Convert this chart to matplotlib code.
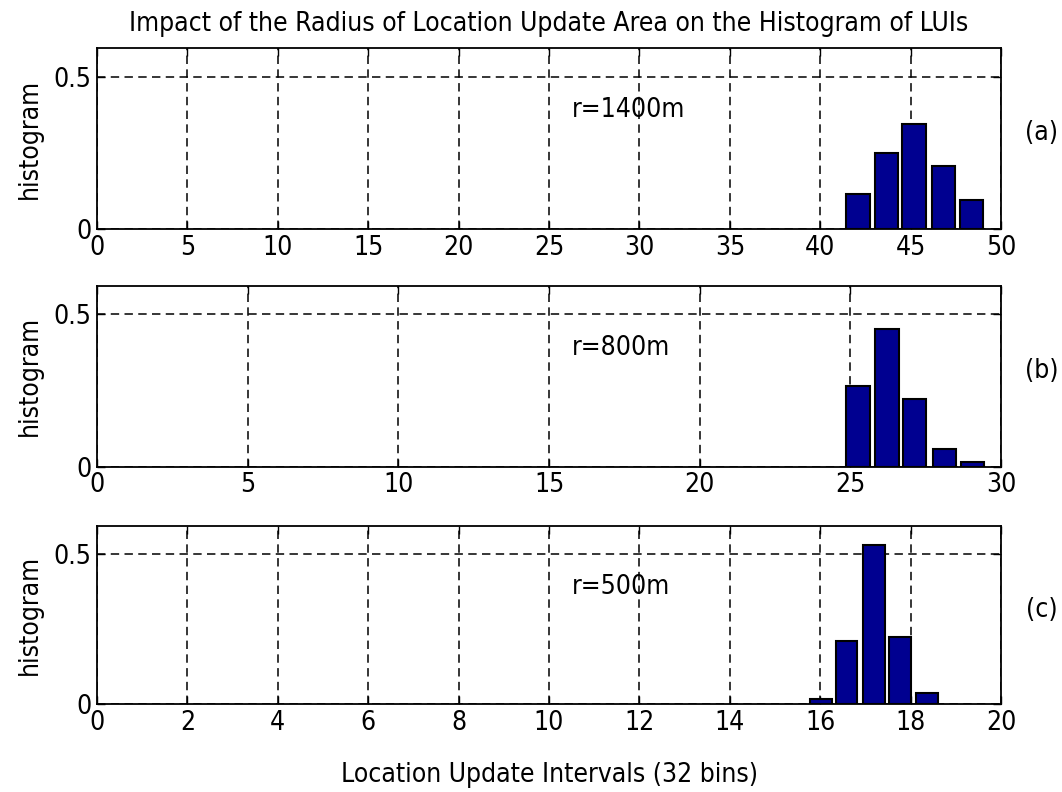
import matplotlib
matplotlib.use("Agg")
import matplotlib.pyplot as plt

plt.rcParams['font.family'] = ['Liberation Sans Narrow', 'DejaVu Sans']
plt.rcParams['font.stretch'] = 'condensed'

# Data
centers_a = [42.09, 43.66, 45.19, 46.82, 48.37]
heights_a = [0.115, 0.250, 0.343, 0.207, 0.094]
centers_b = [25.26, 26.22, 27.12, 28.13, 29.06]
heights_b = [0.265, 0.451, 0.223, 0.059, 0.015]
centers_c = [16.01, 16.58, 17.18, 17.77, 18.37]
heights_c = [0.017, 0.210, 0.530, 0.225, 0.037]

xmax = [50, 30, 20]
xticks = [list(range(0, 51, 5)), list(range(0, 31, 5)), list(range(0, 21, 2))]
radius_labels = ["r=1400m", "r=800m", "r=500m"]
panel_labels = ["(a)", "(b)", "(c)"]
title = "Impact of the Radius of Location Update Area on the Histogram of LUIs"
xlabel = "Location Update Intervals (32 bins)"
ylabel = "histogram"

centers = [centers_a, centers_b, centers_c]
heights = [heights_a, heights_b, heights_c]

fig = plt.figure(figsize=(10.62, 7.92), dpi=100)
rects = [
    [0.0913, 0.7109, 0.8513, 0.2285],
    [0.0913, 0.4107, 0.8513, 0.2285],
    [0.0913, 0.1107, 0.8513, 0.2255],
]
fs = 19
bar_color = '#000090'
for i in range(3):
    ax = fig.add_axes(rects[i])
    c = centers[i]
    spacing = (c[-1] - c[0]) / (len(c) - 1)
    ax.bar(c, heights[i], width=0.82 * spacing, color=bar_color,
           edgecolor='black', linewidth=1.5, zorder=3)
    ax.set_xlim(0, xmax[i])
    ax.set_ylim(0, 0.594)
    ax.set_xticks(xticks[i])
    ax.set_xticklabels([str(t) for t in xticks[i]])
    ax.set_yticks([0, 0.5])
    ax.set_yticklabels(["0", "0.5"])
    ax.tick_params(direction='in', top=True, right=True, length=6, width=1,
                   labelsize=fs, pad=4)
    ax.grid(True, color='black', linestyle=(0, (5.5, 3.5)), linewidth=1.1)
    ax.set_axisbelow(True)
    for s in ax.spines.values():
        s.set_linewidth(1.3)
    ax.set_ylabel(ylabel, fontsize=fs, labelpad=8)
    ax.text(0.525, 0.655, radius_labels[i], transform=ax.transAxes,
            fontsize=fs, va='center', ha='left')
    ax.text(1.045, 0.53, panel_labels[i], transform=ax.transAxes,
            fontsize=fs, va='center', ha='center')
    if i == 0:
        ax.set_title(title, fontsize=fs, pad=12)
    if i == 2:
        ax.set_xlabel(xlabel, fontsize=fs, labelpad=19)

fig.savefig("out.png", dpi=100, facecolor='white')
